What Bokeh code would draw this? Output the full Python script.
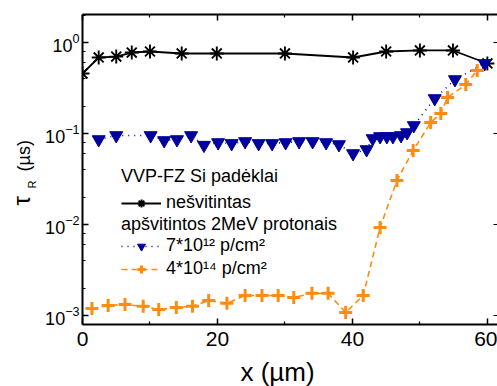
import math
from bokeh.plotting import figure
from bokeh.models import (LinearAxis, LogAxis, FixedTicker, LogTicker, Legend,
                          LegendItem, Range1d, CustomJSTickFormatter)
from bokeh.core.properties import value
from bokeh.embed import file_html
from bokeh.resources import INLINE

# ---- data ----
x_unirr = [0.0, 2.4, 5.0, 7.3, 10.0, 14.7, 19.9, 30.0, 40.1, 45.0, 50.0, 54.9, 60.0]
tau_unirr = [0.456, 0.684, 0.70, 0.776, 0.796, 0.757, 0.757, 0.757, 0.684, 0.796,
             0.817, 0.817, 0.588]

x_7e12 = [2.4, 5.0, 10.1, 12.1, 14.0, 16.1, 18.0, 20.1, 22.1, 24.1, 26.1, 28.1, 30.1,
          32.1, 34.1, 36.1, 38.0, 40.1, 42.1, 43.0, 44.1, 45.1, 46.0, 47.2, 48.1, 49.1,
          52.2, 55.2, 59.6]
tau_7e12 = [0.0859, 0.0951, 0.0951, 0.0838, 0.0859, 0.0951, 0.0745, 0.0796, 0.0778,
            0.0817, 0.0778, 0.0778, 0.0796, 0.0817, 0.0817, 0.0796, 0.0757, 0.0603,
            0.0667, 0.0881, 0.0927, 0.0927, 0.0927, 0.0951, 0.1025, 0.1225, 0.2425,
            0.392, 0.588]

x_4e14 = [1.4, 3.8, 6.3, 9.0, 11.3, 13.9, 16.3, 18.7, 21.4, 24.1, 26.6, 29.0, 31.3,
          34.0, 36.4, 39.0, 41.6, 44.1, 46.6, 49.0, 51.6, 53.1, 54.1, 56.8, 58.5]
tau_4e14 = [1.19e-3, 1.29e-3, 1.32e-3, 1.26e-3, 1.16e-3, 1.22e-3, 1.26e-3, 1.46e-3,
            1.36e-3, 1.66e-3, 1.66e-3, 1.66e-3, 1.58e-3, 1.75e-3, 1.75e-3, 1.08e-3,
            1.66e-3, 9.27e-3, 0.0305, 0.065, 0.132, 0.166, 0.249, 0.345, 0.492]

x_major = [0, 20, 40, 60]
x_minor = [10, 30, 50]

x_title = "x (µm)"
y_title_parts = ["τ", "R", "(µs)"]
legend_head_1 = "VVP-FZ Si padėklai"
legend_head_2 = "apšvitintos 2MeV protonais"
name_unirr = "nešvitintas"
name_7e12 = "7*10¹² p/cm²"
name_4e14 = "4*10¹⁴ p/cm²"

FONT = "Liberation Sans"
BLACK = "#000000"
BLUE = "#00009c"
ORANGE = "#ff8c10"

X0, X1 = 0, 61.5
Y0, Y1 = 7.96e-4, 2.03

p = figure(width=497, height=386, x_range=Range1d(X0, X1),
           y_range=Range1d(Y0, Y1), y_axis_type="log",
           output_backend="svg", toolbar_location=None,
           min_border_left=82, min_border_right=0, min_border_top=14,
           min_border_bottom=62)
p.outline_line_color = None
p.grid.visible = False
p.background_fill_color = "white"
p.border_fill_color = "white"

# ---- series ----
l_un = p.line(x_unirr, tau_unirr, line_color=BLACK, line_width=1.8)
s_un = p.scatter(x_unirr, tau_unirr, marker="asterisk", size=14, line_color=BLACK,
                 line_width=1.9)

l_7 = p.line(x_7e12, tau_7e12, line_color=BLUE, line_width=1.6, line_dash="1 5")
s_7 = p.scatter(x_7e12, tau_7e12, marker="inverted_triangle", size=13,
                fill_color=BLUE, line_color=BLUE)

l_4 = p.line(x_4e14, tau_4e14, line_color=ORANGE, line_width=1.6, line_dash="6 4")
s_4 = p.scatter(x_4e14, tau_4e14, marker="cross", size=13, line_color=ORANGE,
                line_width=3)

# ---- axes ----
xt = FixedTicker(ticks=x_major, minor_ticks=x_minor)
xa = p.xaxis[0]
xa.ticker = xt
ya = p.yaxis[0]
ya.ticker = LogTicker(num_minor_ticks=5)

for ax in (xa, ya):
    ax.axis_line_width = 2
    ax.major_tick_line_width = 1.5
    ax.minor_tick_line_width = 1.2
    ax.major_tick_in = 6
    ax.major_tick_out = 0
    ax.minor_tick_in = 3
    ax.minor_tick_out = 0
    ax.major_label_text_font = FONT
    ax.major_label_text_color = BLACK

xa.major_label_text_font_size = "21px"
xa.major_label_standoff = 7
ya.major_label_text_font_size = "18px"
ya.major_label_standoff = 3

blank = CustomJSTickFormatter(code="return ''")
top = LinearAxis(ticker=xt, formatter=blank, axis_line_width=2,
                 major_tick_line_width=1.5, minor_tick_line_width=1.2,
                 major_tick_in=6, major_tick_out=0, minor_tick_in=3, minor_tick_out=0,
                 major_label_standoff=0)
p.add_layout(top, "above")

right = LogAxis(ticker=LogTicker(num_minor_ticks=0), formatter=blank,
                axis_line_color=None, major_tick_line_width=1.2, major_tick_in=4,
                major_tick_out=0, minor_tick_line_color=None, major_label_standoff=0)
p.add_layout(right, "right")

# ---- axis titles, drawn outside the frame (overlay level is not clipped) ----
p.text(x=[X0], y=[Y0], text=[x_title], x_offset=195, y_offset=47,
       text_font=value(FONT), text_font_size="26px", text_color=BLACK,
       text_align="center", text_baseline="alphabetic", level="overlay")

y_title_sizes = ["24px", "11px", "18px"]
y_title_dx = [-61, -51, -59]
y_title_dy = [-19, -36, -53]
for t, fs, dx, dy in zip(y_title_parts, y_title_sizes, y_title_dx, y_title_dy):
    p.text(x=[X0], y=[1e-2], text=[t], angle=math.pi / 2, x_offset=dx,
           y_offset=dy, text_font=value(FONT), text_font_size=fs,
           text_color=BLACK, text_align="left", text_baseline="alphabetic",
           level="overlay")

# ---- legends ----
def make_legend(title, items, loc, title_gap):
    return Legend(items=items, title=title, location=loc, padding=0, margin=0,
                  spacing=2, border_line_color=None, background_fill_alpha=0,
                  glyph_width=40, glyph_height=20, label_standoff=5, label_height=20,
                  label_text_font=FONT, label_text_font_size="18px",
                  label_text_color=BLACK, title_text_font=FONT,
                  title_text_font_size="18px", title_text_font_style="normal",
                  title_text_color=BLACK, title_standoff=title_gap)

lg1 = make_legend(legend_head_1, [LegendItem(label=name_unirr, renderers=[l_un, s_un])],
                  (39, 111), 5)
lg2 = make_legend(legend_head_2, [LegendItem(label=name_7e12, renderers=[l_7, s_7]),
                                  LegendItem(label=name_4e14, renderers=[l_4, s_4])],
                  (39, 45), 0)
p.add_layout(lg1)
p.add_layout(lg2)

open("out.html", "w").write(file_html(p, INLINE))
